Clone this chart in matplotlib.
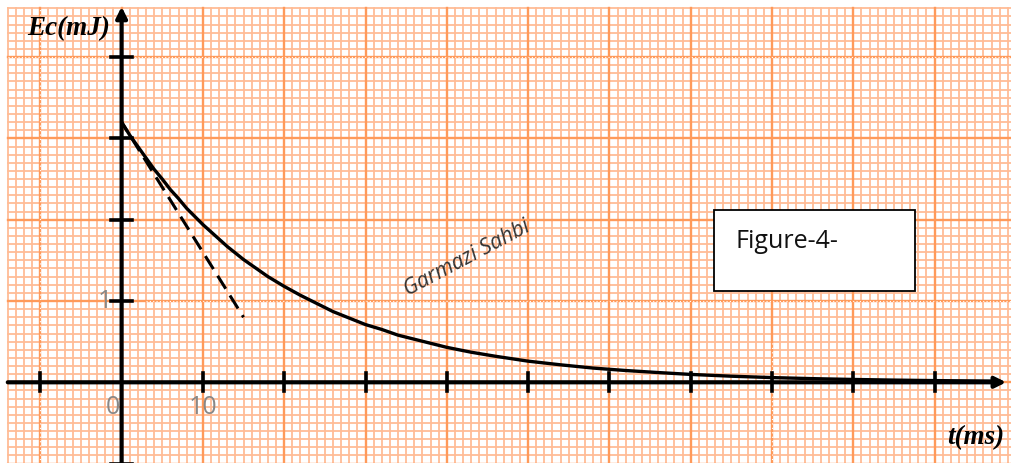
import numpy as np
import matplotlib.pyplot as plt

t_ms = [0, 1, 2, 3, 4, 5, 6, 7, 8, 9, 10, 11, 12, 13, 14, 15, 16, 17, 18,
        19, 20, 22, 24, 26, 28, 30, 32, 34, 36, 38, 40, 43, 46, 50, 54, 58,
        62, 66, 70, 75, 80, 85, 90, 95, 100, 105, 108]
ec_mj = [3.20, 3.04, 2.90, 2.76, 2.62, 2.50, 2.37, 2.26, 2.14, 2.04, 1.94,
         1.85, 1.76, 1.67, 1.59, 1.51, 1.44, 1.37, 1.30, 1.24, 1.18, 1.07,
         0.97, 0.87, 0.79, 0.71, 0.65, 0.58, 0.53, 0.48, 0.43, 0.37, 0.32,
         0.26, 0.215, 0.175, 0.145, 0.12, 0.097, 0.075, 0.058, 0.045, 0.035,
         0.027, 0.021, 0.017, 0.015]

# tangente a l'origine (tirets)
tan_t = [0, 15]
tan_ec = [3.20, 0.80]

x_ticks = [-10, 10, 20, 30, 40, 50, 60, 70, 80, 90, 100]
y_ticks = [-1, 1, 2, 3, 4]
x_labels = [(0, '0'), (10, '10')]
y_labels = [(1, '1')]

W, H = 1011, 464
fig = plt.figure(figsize=(W / 100, H / 100), dpi=100)
ax = fig.add_axes([0, 0, 1, 1])
x0, y0 = 121.6, 383.3      # origine en pixels
sx, sy = 8.13, 81.3        # pixels par ms / par mJ
ax.set_xlim(-x0 / sx, (W - x0) / sx)
ax.set_ylim(-(H - y0) / sy, y0 / sy)
ax.axis('off')

# papier millimetre
tmin, tmax = -14, 110
emin, emax = -1.0, 4.6
for k in range(tmin, tmax + 1):
    major = (k % 10 == 0)
    ax.plot([k, k], [emin, emax], color='#ff9a5a' if major else '#ffbc96',
            lw=1.7 if major else 1.3, zorder=1 if major else 0)
for k in range(int(emin * 10), int(emax * 10) + 1):
    e = k / 10
    major = (k % 10 == 0)
    ax.plot([tmin, tmax], [e, e], color='#ff9a5a' if major else '#ffbc96',
            lw=1.7 if major else 1.3, zorder=1 if major else 0)
# petits defauts blancs du scan
ax.plot([tmin, tmax], [4, 4], color='white', lw=0.8, ls=(0, (1, 2)), zorder=1.5)
ax.plot([3, tmax], [1, 1], color='white', lw=0.8, ls=(0, (1, 2)), zorder=1.5)
ax.plot([-10, -10], [emin, emax], color='white', lw=0.8, ls=(0, (1, 3)), zorder=1.5)
ax.plot([80, 80], [emin, 0.5], color='white', lw=0.8, ls=(0, (1, 3)), zorder=1.5)

# axes
ax.annotate('', xy=(108.8, 0), xytext=(tmin, 0),
            arrowprops=dict(arrowstyle='-|>', lw=3.0, color='black',
                            mutation_scale=16, shrinkA=0, shrinkB=0), zorder=4)
ax.annotate('', xy=(0, 4.62), xytext=(0, emin),
            arrowprops=dict(arrowstyle='-|>', lw=3.0, color='black',
                            mutation_scale=16, shrinkA=0, shrinkB=0), zorder=4)
for t in x_ticks:
    ax.plot([t, t], [-0.11, 0.11], color='black', lw=2.6, zorder=4)
for e in y_ticks:
    ax.plot([-1.25, 1.25], [e, e], color='black', lw=2.6, zorder=4)

for t, s in x_labels:
    ax.text(t - 1.1 if t == 0 else t, -0.3, s, color='#888888', fontsize=18,
            family='Open Sans', ha='center', va='center', zorder=5)
for e, s in y_labels:
    ax.text(-2.0, e, s, color='#888888', fontsize=18, family='Open Sans',
            ha='center', va='center', zorder=5)

# courbe et tangente
ax.plot(t_ms, ec_mj, color='black', lw=2.4, zorder=3, solid_capstyle='round',
        solid_joinstyle='round')
ax.plot(tan_t, tan_ec, color='black', lw=2.2, ls=(1.5, (5, 2.6)), zorder=3)

# textes
ax.text(27 / W, 1 - 29 / H, 'Ec(mJ)', transform=fig.transFigure,
        family='Liberation Serif', style='italic', weight='bold',
        fontsize=19.5, ha='left', va='center', zorder=6)
ax.text(1004 / W, 1 - 438 / H, 't(ms)', transform=fig.transFigure,
        family='Liberation Serif', style='italic', weight='bold',
        fontsize=19.5, ha='right', va='center', zorder=6)
ax.text(467 / W, 1 - 258 / H, 'Garmazi Sahbi', transform=fig.transFigure,
        family='Open Sans', style='italic', color='#333333', fontsize=15.5,
        rotation=28, ha='center', va='center', zorder=6)

box = plt.Rectangle((714 / W, 1 - 292 / H), 201 / W, 81 / H,
                    transform=fig.transFigure, facecolor='white',
                    edgecolor='black', lw=1.3, zorder=6)
fig.patches.append(box)
fig.text(735 / W, 1 - 242 / H, 'Figure-4-', family='Open Sans',
         fontsize=18, color='#111111', ha='left', va='center', zorder=7)

fig.savefig('out.png', dpi=100)
